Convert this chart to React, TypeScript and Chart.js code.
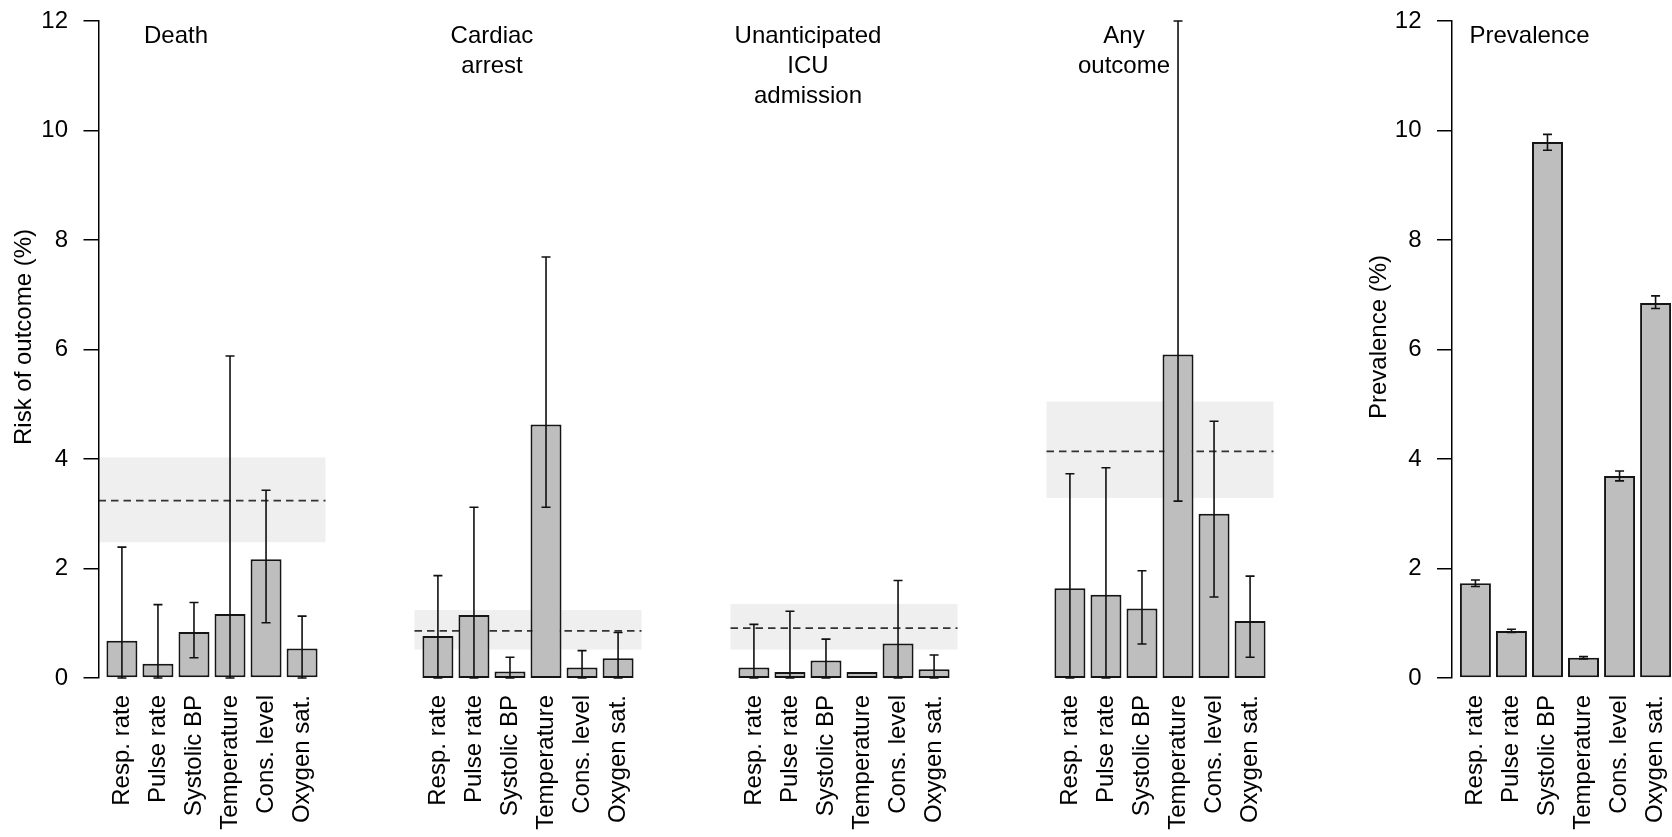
import React, { useEffect, useRef } from 'react';
import { Chart, registerables } from 'chart.js';

Chart.register(...registerables);

// ---------------- data ----------------
const categories = ['Resp. rate', 'Pulse rate', 'Systolic BP', 'Temperature', 'Cons. level', 'Oxygen sat.'];

const deathRisk = [0.68, 0.26, 0.84, 1.17, 2.17, 0.54];
const deathLower = [0, 0, 0.37, 0, 1.01, 0];
const deathUpper = [2.39, 1.34, 1.38, 5.88, 3.43, 1.13];
const deathOverall = 3.24;
const deathBand = [2.48, 4.03];

const cardiacRisk = [0.765, 1.15, 0.12, 4.63, 0.19, 0.36];
const cardiacLower = [0, 0, 0, 3.12, 0, 0];
const cardiacUpper = [1.87, 3.12, 0.38, 7.69, 0.5, 0.83];
const cardiacOverall = 0.86;
const cardiacBand = [0.52, 1.24];

const icuRisk = [0.19, 0.11, 0.32, 0.11, 0.63, 0.16];
const icuLower = [0, 0, 0, null, 0, 0];
const icuUpper = [0.98, 1.22, 0.71, null, 1.78, 0.42];
const icuOverall = 0.91;
const icuBand = [0.52, 1.35];

const anyRisk = [1.64, 1.52, 1.27, 5.91, 3.0, 1.04];
const anyLower = [0, 0, 0.62, 3.23, 1.48, 0.38];
const anyUpper = [3.73, 3.84, 1.96, 12.0, 4.69, 1.86];
const anyOverall = 4.14;
const anyBand = [3.29, 5.05];

const prevalence = [1.73, 0.86, 9.79, 0.37, 3.69, 6.85];
const prevalenceLower = [1.67, 0.83, 9.64, 0.35, 3.6, 6.75];
const prevalenceUpper = [1.79, 0.89, 9.93, 0.39, 3.78, 6.98];

const yMin = 0;
const yMax = 12;
const yStep = 2;

// ---------------- layout / style ----------------
const FONT = "'Liberation Sans', Arial, Helvetica, sans-serif";
const FONT_SIZE = 24;
const CANVAS_W = 1690;
const CANVAS_H = 837;
const AREA_TOP = 21;
const AREA_BOTTOM = 678;
const AREA_W = 227;
const Y_AXIS_W = 60;

type Panel = {
  title: string[];
  values: number[];
  lower: (number | null)[];
  upper: (number | null)[];
  overall?: number;
  band?: number[];
  yTitle?: string;
  yTitleX?: number;
  left: number;
};

const panels: Panel[] = [
  { title: ['Death'], values: deathRisk, lower: deathLower, upper: deathUpper, overall: deathOverall, band: deathBand, yTitle: 'Risk of outcome (%)', yTitleX: 24, left: 98.5 },
  { title: ['Cardiac', 'arrest'], values: cardiacRisk, lower: cardiacLower, upper: cardiacUpper, overall: cardiacOverall, band: cardiacBand, left: 414.5 },
  { title: ['Unanticipated', 'ICU', 'admission'], values: icuRisk, lower: icuLower, upper: icuUpper, overall: icuOverall, band: icuBand, left: 730.5 },
  { title: ['Any', 'outcome'], values: anyRisk, lower: anyLower, upper: anyUpper, overall: anyOverall, band: anyBand, left: 1046.5 },
  { title: ['Prevalence'], values: prevalence, lower: prevalenceLower, upper: prevalenceUpper, yTitle: 'Prevalence (%)', yTitleX: 1379, left: 1452 },
];

function makeChart(canvas: HTMLCanvasElement, p: Panel) {
  const hasY = !!p.yTitle;

  const bandPlugin = {
    id: 'bandPlugin',
    beforeDraw(chart: any) {
      if (p.overall === undefined || !p.band) return;
      const { ctx, chartArea } = chart;
      const y = chart.scales.y;
      const yLo = y.getPixelForValue(p.band[0]);
      const yHi = y.getPixelForValue(p.band[1]);
      ctx.save();
      ctx.fillStyle = '#efefef';
      ctx.fillRect(chartArea.left, yHi, chartArea.right - chartArea.left, yLo - yHi);
      const ym = y.getPixelForValue(p.overall);
      ctx.strokeStyle = '#333';
      ctx.lineWidth = 1.8;
      ctx.setLineDash([7.5, 5]);
      ctx.beginPath();
      ctx.moveTo(chartArea.left, ym);
      ctx.lineTo(chartArea.right, ym);
      ctx.stroke();
      ctx.restore();
    },
  };

  const errorPlugin = {
    id: 'errorPlugin',
    afterDatasetsDraw(chart: any) {
      const { ctx } = chart;
      const xs = chart.scales.x;
      const ys = chart.scales.y;
      ctx.save();
      ctx.strokeStyle = '#111';
      ctx.lineWidth = 1.6;
      const cap = 4.5;
      p.values.forEach((_, i) => {
        const lo = p.lower[i];
        const hi = p.upper[i];
        if (lo === null || hi === null) return;
        const x = xs.getPixelForValue(i);
        const y1 = ys.getPixelForValue(lo);
        const y2 = ys.getPixelForValue(hi);
        ctx.beginPath();
        ctx.moveTo(x, y1);
        ctx.lineTo(x, y2);
        ctx.moveTo(x - cap, y1);
        ctx.lineTo(x + cap, y1);
        ctx.moveTo(x - cap, y2);
        ctx.lineTo(x + cap, y2);
        ctx.stroke();
      });
      ctx.restore();
    },
  };

  const textPlugin = {
    id: 'textPlugin',
    afterDraw(chart: any) {
      const { ctx } = chart;
      const xs = chart.scales.x;
      ctx.save();
      ctx.fillStyle = '#000';
      ctx.font = `${FONT_SIZE}px ${FONT}`;
      ctx.textAlign = 'center';
      ctx.textBaseline = 'alphabetic';
      const tx = xs.getPixelForValue(1.5);
      p.title.forEach((line, k) => {
        ctx.fillText(line, tx, 42.5 + k * 30);
      });
      if (p.yTitle && p.yTitleX !== undefined) {
        ctx.translate(p.yTitleX, 337);
        ctx.rotate(-Math.PI / 2);
        ctx.textBaseline = 'middle';
        ctx.fillText(p.yTitle, 0, 0);
      }
      ctx.restore();
    },
  };

  return new Chart(canvas, {
    type: 'bar',
    data: {
      datasets: [
        {
          data: p.values.map((v, i) => ({ x: i, y: v })),
          backgroundColor: '#bebebe',
          borderColor: '#151515',
          borderWidth: 2,
          borderSkipped: false,
          barPercentage: 0.86,
          categoryPercentage: 1,
        } as any,
      ],
    },
    options: {
      responsive: false,
      animation: false,
      events: [],
      layout: {
        padding: {
          left: hasY ? p.left - Y_AXIS_W : p.left,
          right: CANVAS_W - (p.left + AREA_W),
          top: AREA_TOP,
          bottom: 0,
        },
      },
      plugins: {
        legend: { display: false },
        tooltip: { enabled: false },
        title: { display: false },
      },
      scales: {
        x: {
          type: 'linear',
          min: -0.65,
          max: 5.65,
          offset: false,
          afterBuildTicks: (s: any) => {
            s.ticks = categories.map((_, i) => ({ value: i }));
          },
          afterFit: (s: any) => {
            s.height = CANVAS_H - AREA_BOTTOM;
            s.paddingLeft = 0;
            s.paddingRight = 0;
          },
          grid: { display: false, drawTicks: false, offset: false },
          border: { display: false },
          ticks: {
            autoSkip: false,
            maxRotation: 90,
            minRotation: 90,
            padding: 17,
            color: '#000',
            font: { size: FONT_SIZE, family: FONT },
            callback: (v: any) => categories[v as number] ?? '',
          },
        } as any,
        y: {
          type: 'linear',
          min: yMin,
          max: yMax,
          display: hasY,
          afterFit: (s: any) => {
            s.width = hasY ? Y_AXIS_W : 0;
            s.paddingTop = 0;
            s.paddingBottom = 0;
          },
          ticks: {
            stepSize: yStep,
            padding: 15.5,
            color: '#000',
            font: { size: FONT_SIZE, family: FONT },
          },
          grid: { drawOnChartArea: false, drawTicks: true, tickLength: 15, color: '#000', lineWidth: 1.5 },
          border: { display: true, color: '#000', width: 1.5 },
        } as any,
      },
    },
    plugins: [bandPlugin, errorPlugin, textPlugin],
  } as any);
}

export default function App() {
  const refs = useRef<(HTMLCanvasElement | null)[]>([]);

  useEffect(() => {
    const charts = panels.map((p, k) => makeChart(refs.current[k] as HTMLCanvasElement, p));
    return () => {
      charts.forEach((c) => c.destroy());
    };
  }, []);

  return (
    <div
      style={{
        position: 'absolute',
        left: 0,
        top: 0,
        width: 1672,
        height: 837,
        overflow: 'hidden',
        background: '#fff',
      }}
    >
      {panels.map((_, k) => (
        <canvas
          key={k}
          ref={(el) => {
            refs.current[k] = el;
          }}
          width={CANVAS_W}
          height={CANVAS_H}
          style={{ position: 'absolute', left: 0, top: 0, width: CANVAS_W, height: CANVAS_H }}
        />
      ))}
    </div>
  );
}
